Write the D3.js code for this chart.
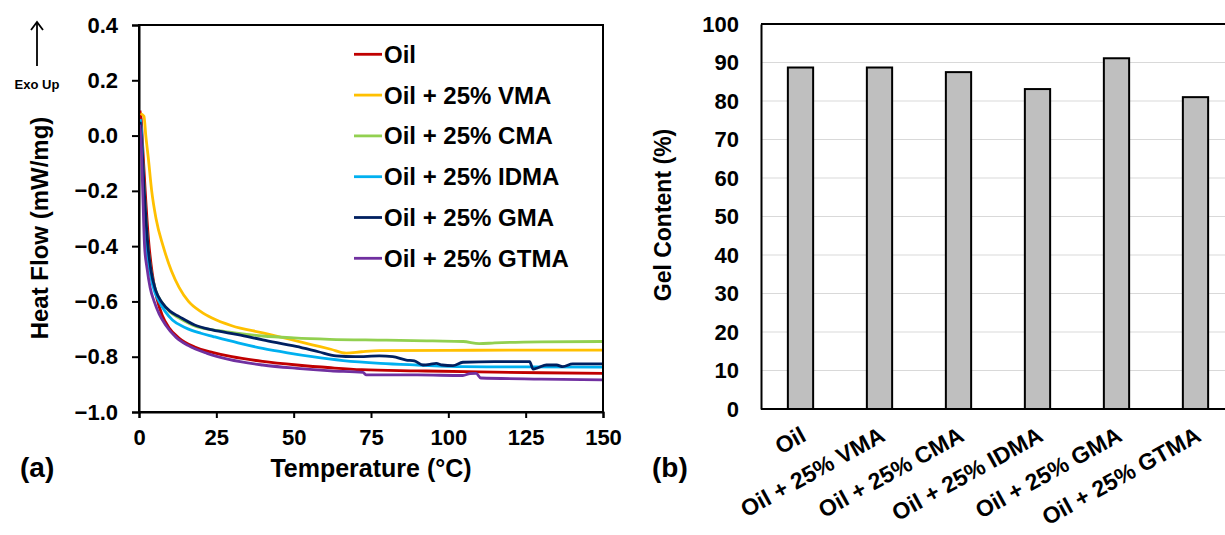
<!DOCTYPE html>
<html>
<head>
<meta charset="utf-8">
<script src="https://cdn.jsdelivr.net/npm/d3@7"></script>
<style>
  body { margin: 0; background: #fff; }
  text { font-family: "Liberation Sans", Arial, sans-serif; font-weight: bold; fill: #000; }
</style>
</head>
<body>
<div id="chart"></div>
<script>
// ---- data (a): DSC heat flow, [temperature degC, mW/mg]
var seriesNames = ["Oil", "Oil + 25% VMA", "Oil + 25% CMA", "Oil + 25% IDMA", "Oil + 25% GMA", "Oil + 25% GTMA"];
var seriesColors = ["#c00000", "#ffc000", "#92d050", "#00b0f0", "#002060", "#7030a0"];

var oil = [[0.3,0.09],[0.7,0.06],[1.2,-0.04],[2,-0.2],[3.1,-0.38],[4.3,-0.5],[5.8,-0.59],[7.5,-0.65],[9.7,-0.695],[13,-0.733],[18,-0.765],[24,-0.785],[30,-0.8],[40,-0.817],[51,-0.83],[62,-0.84],[72,-0.847],[90,-0.851],[110,-0.855],[130,-0.858],[150,-0.86]];
var vma = [[0.5,0.08],[1.6,0.07],[2.2,0.0],[3,-0.08],[4.1,-0.2],[5.5,-0.3],[7.8,-0.4],[10.5,-0.49],[13,-0.55],[16,-0.6],[20,-0.637],[23.6,-0.66],[30,-0.688],[40,-0.714],[48,-0.735],[56,-0.757],[62,-0.773],[67,-0.787],[72,-0.782],[77.7,-0.778],[100,-0.777],[125,-0.776],[150,-0.776]];
var cma = [[0.4,0.05],[1,-0.05],[1.7,-0.2],[2.9,-0.4],[3.9,-0.49],[5.4,-0.56],[7.5,-0.605],[10,-0.638],[13,-0.66],[18.4,-0.69],[24,-0.703],[30,-0.712],[40,-0.725],[50,-0.732],[61.6,-0.737],[80,-0.74],[95,-0.743],[104.8,-0.745],[110,-0.753],[115,-0.75],[130,-0.746],[150,-0.745]];
var idma = [[0.4,0.06],[0.9,0.0],[1.5,-0.2],[2.4,-0.4],[3.2,-0.47],[4.4,-0.54],[6.5,-0.6],[8.5,-0.637],[10.8,-0.667],[15,-0.695],[20,-0.715],[24,-0.727],[32,-0.75],[40,-0.77],[48,-0.786],[56,-0.8],[66,-0.814],[78,-0.824],[90,-0.83],[105,-0.836],[125,-0.837],[150,-0.838]];
var gma = [[0.4,0.05],[1,-0.05],[1.7,-0.2],[2.9,-0.4],[3.9,-0.49],[5.4,-0.56],[7.5,-0.605],[10,-0.635],[13,-0.655],[18,-0.685],[23.7,-0.703],[32,-0.72],[40,-0.739],[50.8,-0.763],[58,-0.782],[63.7,-0.797],[70,-0.8],[77.7,-0.797],[82,-0.8],[86.4,-0.812],[89,-0.815],[91.8,-0.83],[94,-0.828],[96.1,-0.824],[98,-0.83],[101.5,-0.832],[104.7,-0.82],[115,-0.818],[126.3,-0.818],[127.4,-0.845],[129,-0.84],[131.7,-0.83],[135,-0.83],[137,-0.836],[140.2,-0.826],[150,-0.826]];
var gtma = [[0.3,0.04],[0.8,-0.05],[1.2,-0.2],[1.8,-0.4],[2.6,-0.48],[3.6,-0.55],[4.9,-0.6],[6.5,-0.645],[8.6,-0.685],[12,-0.73],[16,-0.76],[22,-0.788],[29,-0.81],[40,-0.83],[51,-0.842],[62,-0.851],[72.4,-0.857],[73.5,-0.866],[90,-0.866],[104.7,-0.868],[107,-0.861],[109,-0.86],[110.5,-0.877],[130,-0.881],[150,-0.884]];
var dscSeries = [oil, vma, cma, idma, gma, gtma];

var tempTicks = [0, 25, 50, 75, 100, 125, 150];
var flowTicks = [0.4, 0.2, 0.0, -0.2, -0.4, -0.6, -0.8, -1.0];

// ---- data (b): gel content
var gelCategories = ["Oil", "Oil + 25% VMA", "Oil + 25% CMA", "Oil + 25% IDMA", "Oil + 25% GMA", "Oil + 25% GTMA"];
var gelValues = [88.7, 88.7, 87.5, 83.1, 91.1, 81.0];
var gelTicks = [0, 10, 20, 30, 40, 50, 60, 70, 80, 90, 100];

var svg = d3.select("#chart").append("svg")
  .attr("width", 1225)
  .attr("height", 535);

// ================= panel (a) =================
var xA = d3.scaleLinear().domain([0, 150]).range([139, 603]);
var yA = d3.scaleLinear().domain([-1.0, 0.4]).range([412, 25]);

var gA = svg.append("g");

gA.append("g")
  .attr("transform", "translate(0,412)")
  .call(d3.axisBottom(xA).tickValues(tempTicks).tickSize(6).tickPadding(11).tickFormat(d3.format("d")))
  .call(function (g) { g.selectAll("text").style("font-size", "22px"); });

gA.append("g")
  .attr("transform", "translate(139,0)")
  .call(d3.axisLeft(yA).tickValues(flowTicks).tickSize(7).tickPadding(14).tickFormat(d3.format(".1f")))
  .call(function (g) { g.selectAll("text").style("font-size", "22px"); });

gA.selectAll(".domain, .tick line").attr("stroke", "#000").attr("stroke-width", 2);

var line = d3.line()
  .x(function (d) { return xA(d[0]); })
  .y(function (d) { return yA(d[1]); })
  .curve(d3.curveMonotoneX);

gA.selectAll(".dsc")
  .data(dscSeries)
  .enter().append("path")
  .attr("class", "dsc")
  .attr("d", line)
  .attr("fill", "none")
  .attr("stroke-width", 2.8)
  .attr("stroke-linejoin", "round")
  .attr("stroke", function (d, i) { return seriesColors[i]; });

// plot frame
gA.append("rect")
  .attr("x", 139).attr("y", 25)
  .attr("width", 464).attr("height", 387)
  .attr("fill", "none")
  .attr("stroke", "#000")
  .attr("stroke-width", 2);

// legend
var legend = gA.selectAll(".leg")
  .data(seriesNames)
  .enter().append("g")
  .attr("class", "leg")
  .attr("transform", function (d, i) { return "translate(354," + (54.3 + i * 40.8) + ")"; });

legend.append("line")
  .attr("x1", 0).attr("x2", 28)
  .attr("stroke-width", 2.8)
  .attr("stroke", function (d, i) { return seriesColors[i]; });

legend.append("text")
  .attr("x", 30)
  .attr("dy", "0.35em")
  .style("font-size", "24px")
  .text(function (d) { return d; });

gA.append("text")
  .attr("transform", "translate(48,228) rotate(-90)")
  .attr("text-anchor", "middle")
  .style("font-size", "24px")
  .text("Heat Flow (mW/mg)");

gA.append("text")
  .attr("x", 371).attr("y", 477)
  .attr("text-anchor", "middle")
  .style("font-size", "25px")
  .text("Temperature (°C)");

gA.append("text")
  .attr("x", 20).attr("y", 477)
  .style("font-size", "28px")
  .text("(a)");

// exo up arrow
gA.append("line")
  .attr("x1", 37).attr("x2", 37)
  .attr("y1", 66).attr("y2", 22)
  .attr("stroke", "#000").attr("stroke-width", 1.8);
gA.append("path")
  .attr("d", "M31,30 L37,22 L43,30")
  .attr("fill", "none")
  .attr("stroke", "#000").attr("stroke-width", 1.8);
gA.append("text")
  .attr("x", 37).attr("y", 89)
  .attr("text-anchor", "middle")
  .style("font-size", "13px")
  .text("Exo Up");

// ================= panel (b) =================
var xB = d3.scaleBand().domain(gelCategories).range([761, 1235]).paddingInner(0.68).paddingOuter(0.34);
var yB = d3.scaleLinear().domain([0, 100]).range([409, 24]);

var gB = svg.append("g");

gB.selectAll(".grid")
  .data(gelTicks.slice(1, -1))
  .enter().append("line")
  .attr("class", "grid")
  .attr("x1", 761).attr("x2", 1235)
  .attr("y1", function (d) { return yB(d); })
  .attr("y2", function (d) { return yB(d); })
  .attr("stroke", "#d9d9d9")
  .attr("stroke-width", 1);

gB.selectAll(".bar")
  .data(gelValues)
  .enter().append("rect")
  .attr("class", "bar")
  .attr("x", function (d, i) { return xB(gelCategories[i]); })
  .attr("width", xB.bandwidth())
  .attr("y", function (d) { return yB(d); })
  .attr("height", function (d) { return yB(0) - yB(d); })
  .attr("fill", "#bfbfbf")
  .attr("stroke", "#000")
  .attr("stroke-width", 2);

gB.append("g")
  .attr("transform", "translate(761,0)")
  .call(d3.axisLeft(yB).tickValues(gelTicks).tickSize(0).tickPadding(22))
  .call(function (g) { g.selectAll("text").style("font-size", "22px"); });

gB.selectAll(".domain").attr("stroke", "#000").attr("stroke-width", 2);

gB.append("path")
  .attr("d", "M761,24 L1235,24 M761,409 L1235,409")
  .attr("stroke", "#000")
  .attr("stroke-width", 2);

gB.selectAll(".xlab")
  .data(gelCategories)
  .enter().append("text")
  .attr("class", "xlab")
  .attr("text-anchor", "end")
  .attr("transform", function (d) {
    return "translate(" + (xB(d) + xB.bandwidth() / 2 + 7) + ",440) rotate(-29)";
  })
  .style("font-size", "23px")
  .text(function (d) { return d; });

gB.append("text")
  .attr("transform", "translate(671,215) rotate(-90)")
  .attr("text-anchor", "middle")
  .style("font-size", "23px")
  .text("Gel Content (%)");

gB.append("text")
  .attr("x", 652).attr("y", 477)
  .style("font-size", "28px")
  .text("(b)");
</script>
</body>
</html>
